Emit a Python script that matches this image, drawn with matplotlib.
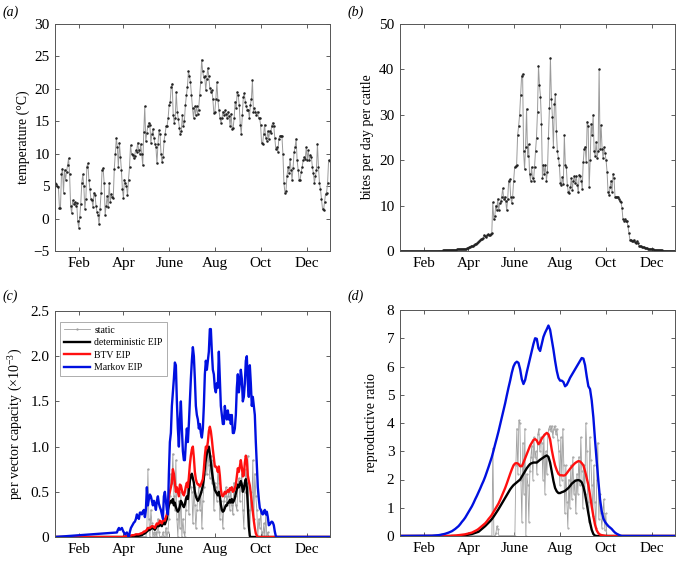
import numpy as np
import matplotlib
matplotlib.use("Agg")
import matplotlib.pyplot as plt

plt.rcParams['font.family'] = ['Liberation Serif', 'DejaVu Serif']
plt.rcParams['mathtext.fontset'] = 'custom'
plt.rcParams['mathtext.rm'] = 'Liberation Serif'
plt.rcParams['mathtext.it'] = 'Liberation Serif:italic'

# ---------------- data ----------------
month_ticks = [32, 91, 152, 213, 274, 335]
month_labels = ['Feb', 'Apr', 'June', 'Aug', 'Oct', 'Dec']

temperature = [5.5, 5.3, 5, 4.8, 1.7, 1.6, 6.8, 7.7, 4, 7.5, 6, 7.2, 8.2, 9.3, 6.8, 2, 0.8, 2.8, 2.2, 2.5, 2, 2.4,
               -0.4, -1.4, 0.2, 2.3, 5.5, 6.8, 5, 1.5, 3, 8, 8.5, 6, 4.5, 3, 2.8, 1.8, 4, 3.7, 2, 1, 0.5, -0.9, 1.5,
               4, 7.5, 7.8, 5.5, 0.6, 2, 3.5, 1.8, 5.5, 2.5, 3.8, 3.3, 3.2, 7.7, 10, 12.4, 11, 8, 11.7, 9.5, 7.5,
               4.5, 3.2, 6, 5.5, 5, 3.6, 6, 8, 11.3, 10, 9.8, 9.3, 9.7, 10.5, 10.3, 11.7, 10.5, 10, 11.5, 10, 8.2,
               13.3, 17.3, 12, 13.2, 14.2, 14.8, 14.5, 11.7, 13, 13.8, 12.5, 11.5, 11, 8.5, 11.5, 13.6, 13, 10,
               8.7, 9.5, 12, 13, 14.2, 14.3, 15.5, 17.5, 18, 20.3, 20.8, 16, 14.8, 15.5, 19.5, 16.5, 15.3, 14, 13,
               13.5, 16, 14.2, 15, 17.5, 19, 20.3, 22.7, 22, 21, 19, 17, 15.5, 17.3, 16, 17.3, 16.2, 16.8, 19, 21,
               24.5, 22.7, 21.8, 22, 19.8, 21.5, 23.2, 22, 20.2, 19.5, 19.8, 18.5, 16.3, 16.5, 18.5, 21, 18.3,
               16.7, 15.5, 14.8, 15.5, 16.5, 16, 16.7, 16.2, 15.5, 16.5, 15.8, 14.3, 16.2, 13.8, 14, 15.5, 18, 17,
               19.5, 19, 17.5, 14.5, 13, 16, 18.7, 19.3, 18, 17.3, 16.8, 16.8, 15.5, 17.5, 18.5, 21.3, 16.5, 17,
               16.5, 16, 16.5, 15.5, 15.5, 14.5, 11.7, 11.5, 13, 14.5, 12.5, 12, 13.5, 12.3, 13.5, 13.2, 14.3,
               14.8, 14.3, 12.5, 10.7, 11, 10.3, 12.3, 12.8, 12.8, 12.8, 10, 5.5, 4, 4.2, 6.5, 8, 7, 9.2, 7.5, 6,
               7.8, 10.2, 11, 12.3, 9, 7.5, 6, 6, 7.2, 8, 9, 9.5, 9.2, 11, 9, 10.5, 9, 9.8, 9.5, 8, 7, 5.5, 6.5,
               7.5, 11.5, 8, 5.5, 4.5, 3, 1.5, 1.3, 2.5, 3.8, 4, 5.5, 9, 8.8]

bites = [0.0, 0.0, 0.0, 0.0, 0.0, 0.0, 0.0, 0.0, 0.0, 0.0, 0.0, 0.0, 0.0, 0.0, 0.0, 0.0, 0.0, 0.0, 0.0, 0.0,
         0.0, 0.0, 0.0, 0.0, 0.0, 0.05, 0.05, 0.05, 0.05, 0.05, 0.05, 0.05, 0.05, 0.05, 0.05, 0.05, 0.05, 0.05, 0.05,
         0.1, 0.1, 0.1, 0.1, 0.15, 0.15, 0.15, 0.2, 0.2, 0.2, 0.2, 0.25, 0.25, 0.3, 0.3, 0.3, 0.3,
         0.3, 0.35, 0.35, 0.4, 0.4, 0.4, 0.45, 0.45, 0.5, 0.5, 0.55, 0.6, 0.7, 0.8, 0.9, 1.0, 1.1, 1.2, 1.4, 1.5,
         1.6, 1.8, 2.0, 2.2, 2.4, 2.6, 2.7, 2.8, 3.5, 3.2, 3.0, 3.5, 3.7, 3.6, 3.5, 3.8, 4.0,
         10.7, 7, 7.7, 10, 9, 11.5, 9, 10.5, 11, 12, 13.8, 11.5, 12, 11, 9, 11.5, 15.5, 15.8, 12, 10.5, 12, 15.5,
         18.5, 18.7, 19, 25.5, 27.5, 30, 34.3, 38.5, 39, 22, 18, 23, 31.3, 21, 23.5, 17, 15.5, 18.5, 16, 15.5,
         18.5, 22, 25, 30.7, 40.8, 36.5, 34, 28, 16, 19, 17, 19, 15.5, 17.5, 25, 31.5, 42.5, 33.5, 29.5, 23,
         32.3, 34.5, 26.5, 22, 20.5, 19, 15, 14.5, 16.3, 14.7, 25.5, 19, 18.5, 14.5, 13, 12.8, 14, 16, 13.5,
         15.5, 16.5, 15, 16.5, 14.5, 13, 16.8, 16.5, 15.5, 13.7, 19.5, 22.5, 23, 19.5, 28.5, 27.5, 14, 20, 28,
         25.5, 30, 22, 21, 24, 20.5, 22, 40, 22.5, 27.7, 22.5, 20.5, 22.8, 21.5, 20, 17.5, 13, 12.3, 14, 15.5,
         13, 17, 16, 12, 12, 11.8, 12, 11.5, 11, 10.8, 9.5, 7, 6.7, 7, 6.5, 6.7, 5.5, 4, 2.5, 2.5, 2.3, 2.2,
         2.5, 2, 1.8, 2.2, 1.7, 1.2,
         1.1, 1.0, 0.9, 0.85, 0.8, 0.7, 0.65, 0.6, 0.55, 0.5, 0.45, 0.45, 0.4, 0.35, 0.3, 0.3, 0.25, 0.25,
         0.2, 0.2, 0.15, 0.15, 0.12, 0.1, 0.1, 0.08, 0.07, 0.06, 0.05, 0.05, 0.04, 0.03, 0.03, 0.02, 0.02, 0.02]

# panel (c): per vector capacity (x1e-3), sampled every 1.33 days from day 82.4
c_start, c_step = 82.4, 1.33
markov_c = [0.05, 0.08, 0.1, 0.08, 0.09, 0.1, 0.07, 0.05, 0.03, 0.04, 0.05, 0.02, 0.0, 0.06, 0.1, 0.12, 0.14,
            0.16, 0.17, 0.2, 0.25, 0.22, 0.2, 0.27, 0.27, 0.25, 0.28, 0.3, 0.22, 0.3, 0.55, 0.35, 0.42, 0.47,
            0.45, 0.4, 0.35, 0.4, 0.36, 0.3, 0.4, 0.45, 0.37, 0.33, 0.3, 0.25, 0.2, 0.45, 0.5, 0.4, 0.3, 0.25,
            0.7, 1.05, 1.15, 1.45, 1.6, 1.75, 1.93, 1.9, 1.5, 1.2, 1.0, 1.3, 1.5, 1.2, 0.95, 0.85, 0.85, 1.05,
            1.2, 1.05, 1.25, 1.5, 1.75, 1.95, 2.1, 2.0, 1.75, 1.45, 1.35, 1.3, 1.2, 1.25, 1.15, 1.1, 1.2, 1.45,
            1.8, 1.95, 1.85, 1.95, 2.05, 2.3, 2.3, 2.05, 1.85, 1.8, 1.65, 1.6, 1.7, 1.65, 2.05, 1.75, 1.45,
            1.35, 1.25, 1.25, 1.45, 1.35, 1.3, 1.4, 1.3, 1.35, 1.25, 1.35, 1.15, 1.15, 1.2, 1.35, 1.65, 1.8,
            1.6, 1.7, 1.85, 1.75, 1.5, 1.55, 1.7, 1.95, 2.0, 1.7, 1.55, 1.9, 1.7, 1.45, 1.55, 1.45, 1.35, 1.05,
            0.8, 0.55, 0.42, 0.32, 0.3, 0.26, 0.25, 0.28, 0.3, 0.25, 0.28, 0.22, 0.13, 0.14, 0.16, 0.17, 0.16,
            0.13, 0.06, 0.01, 0.0]
btv_c = [0.0, 0.0, 0.0, 0.0, 0.0, 0.0, 0.0, 0.005, 0.005, 0.01, 0.01, 0.01, 0.01, 0.015, 0.015, 0.02, 0.02, 0.02,
         0.025, 0.03, 0.03, 0.03, 0.03, 0.035, 0.04, 0.04, 0.05, 0.06, 0.06, 0.07, 0.08, 0.1, 0.1, 0.1, 0.11, 0.12,
         0.12, 0.11, 0.1, 0.13, 0.15, 0.14, 0.15, 0.18, 0.17, 0.15, 0.18, 0.2, 0.18, 0.22, 0.25, 0.35, 0.45, 0.5,
         0.55, 0.6, 0.75, 0.7, 0.6, 0.5, 0.55, 0.5, 0.45, 0.58, 0.57, 0.52, 0.48, 0.46, 0.5, 0.56, 0.6, 0.55,
         0.66, 0.8, 0.9, 0.97, 1.0, 0.88, 0.72, 0.64, 0.6, 0.58, 0.58, 0.56, 0.58, 0.61, 0.64, 0.75, 0.9, 1.0,
         0.98, 1.05, 1.17, 1.22, 1.17, 1.08, 0.97, 0.88, 0.78, 0.78, 0.76, 0.72, 0.78, 0.68, 0.53, 0.46, 0.45,
         0.47, 0.5, 0.48, 0.5, 0.52, 0.5, 0.54, 0.52, 0.55, 0.5, 0.51, 0.54, 0.58, 0.67, 0.76, 0.72, 0.78, 0.85,
         0.77, 0.67, 0.68, 0.82, 0.9, 0.85, 0.68, 0.62, 0.57, 0.48, 0.38, 0.28, 0.18, 0.1, 0.04, 0.015, 0.0,
         0.0, 0.0, 0.0, 0.0, 0.0, 0.0, 0.0, 0.0, 0.0, 0.0, 0.0, 0.0, 0.0, 0.0, 0.0, 0.0, 0.0, 0.0, 0.0]
det_c = [0.0, 0.0, 0.0, 0.0, 0.0, 0.0, 0.0, 0.0, 0.0, 0.0, 0.0, 0.0, 0.0, 0.0, 0.0, 0.0, 0.0, 0.005, 0.005, 0.01,
         0.01, 0.01, 0.015, 0.015, 0.02, 0.02, 0.03, 0.035, 0.04, 0.05, 0.06, 0.07, 0.08, 0.08, 0.09, 0.1, 0.1,
         0.09, 0.08, 0.1, 0.12, 0.12, 0.12, 0.14, 0.13, 0.12, 0.15, 0.17, 0.14, 0.17, 0.2, 0.3, 0.35, 0.38, 0.4,
         0.38, 0.42, 0.35, 0.38, 0.33, 0.3, 0.28, 0.3, 0.34, 0.4, 0.38, 0.35, 0.33, 0.36, 0.42, 0.45, 0.42,
         0.52, 0.62, 0.68, 0.7, 0.65, 0.6, 0.5, 0.45, 0.42, 0.4, 0.42, 0.45, 0.48, 0.52, 0.57, 0.65, 0.77,
         0.86, 0.92, 0.98, 1.0, 0.92, 0.82, 0.73, 0.65, 0.58, 0.52, 0.5, 0.48, 0.46, 0.5, 0.45, 0.36, 0.3,
         0.28, 0.29, 0.32, 0.35, 0.35, 0.38, 0.38, 0.41, 0.38, 0.42, 0.38, 0.4, 0.43, 0.48, 0.53, 0.58, 0.55,
         0.58, 0.62, 0.58, 0.5, 0.53, 0.6, 0.64, 0.55, 0.35, 0.12, 0.01, 0.0, 0.0, 0.0, 0.0, 0.0, 0.0, 0.0,
         0.0, 0.0, 0.0, 0.0, 0.0, 0.0, 0.0, 0.0, 0.0, 0.0, 0.0, 0.0, 0.0, 0.0, 0.0, 0.0, 0.0, 0.0, 0.0]
static_c = [0.0, 0.0, 0.0, 0.0, 0.0, 0.0, 0.0, 0.0, 0.0, 0.0, 0.0, 0.0, 0.0, 0.0, 0.0, 0.0, 0.0, 0.0, 0.0, 0.0,
            0.0, 0.0, 0.0, 0.0, 0.0, 0.0, 0.0, 0.0, 0.0, 0.0,
            0.1, 0.75, 0.2, 0.0, 0.3, 0.15, 0.0, 0.05, 0.0, 0.05, 0.0, 0.2, 0.05, 0.0, 0.0, 0.0, 0.05, 0.0, 0.0,
            0.1, 0.0, 0.05, 0.2, 0.45, 0.7, 0.6, 0.92, 0.45, 0.3, 0.85, 0.2, 0.0, 0.4, 0.1, 0.5, 0.0, 0.2, 0.05,
            0.0, 0.3, 0.45, 0.6, 0.25, 0.65, 0.55, 0.5, 0.15, 0.55, 0.35, 0.1, 0.3, 0.45, 0.55, 0.3, 0.5, 0.1,
            0.4, 0.55, 0.7, 0.85, 0.7, 0.95, 0.8, 0.65, 0.9, 0.6, 0.85, 0.3, 0.6, 0.55, 0.4, 0.75, 0.6, 0.2,
            0.4, 0.3, 0.1, 0.4, 0.45, 0.55, 0.35, 0.45, 0.5, 0.3, 0.55, 0.35, 0.25, 0.6, 0.45, 0.35, 0.3, 0.55,
            0.65, 0.4, 0.6, 0.7, 0.3, 0.1, 0.5, 0.75, 0.6, 0.9, 0.3, 0.0, 0.5, 0.3, 0.85, 0.2, 0.7, 0.45, 0.3,
            0.0, 0.2, 0.1, 0.3, 0.05, 0.0, 0.15, 0.0, 0.25, 0.0, 0.05, 0.0,
            0.0, 0.0, 0.0, 0.0, 0.0, 0.0, 0.0, 0.0]

# panel (d): reproductive ratio, smooth curves sampled every 2.215 days from day 42.5
d_start, d_step = 42.5, 2.215
markov_d = [0.01, 0.015, 0.02, 0.025, 0.03, 0.04, 0.055, 0.065, 0.08, 0.1, 0.12, 0.145, 0.17, 0.21, 0.25, 0.3,
            0.35, 0.42, 0.5, 0.57, 0.65, 0.75, 0.85, 0.95, 1.05, 1.17, 1.3, 1.42, 1.55, 1.68, 1.82, 1.95, 2.1,
            2.27, 2.44, 2.62, 2.8, 3.02, 3.25, 3.47, 3.7, 3.95, 4.2, 4.45, 4.7, 4.98, 5.25, 5.5, 5.78, 6.0, 6.12,
            6.17, 6.13, 5.9, 5.55, 5.38, 5.52, 5.8, 6.05, 6.3, 6.55, 6.8, 7.0, 6.98, 6.65, 6.55, 6.8, 7.05, 7.2,
            7.32, 7.45, 7.3, 6.95, 6.6, 6.2, 5.85, 5.6, 5.5, 5.5, 5.45, 5.3, 5.35, 5.47, 5.6, 5.7, 5.8, 5.9, 6.0,
            6.1, 6.2, 6.3, 6.28, 6.05, 5.65, 5.3, 5.2, 4.8, 4.2, 3.4, 2.65, 1.95, 1.3, 0.88, 0.62, 0.5, 0.42,
            0.35, 0.3, 0.25, 0.18, 0.12, 0.08, 0.05, 0.02, 0.0, 0.0, 0.0]
btv_d = [0.0, 0.0, 0.0, 0.0, 0.0, 0.0, 0.0, 0.0, 0.0, 0.0, 0.0, 0.0, 0.01, 0.013, 0.017, 0.022, 0.03, 0.037, 0.045,
         0.052, 0.06, 0.075, 0.09, 0.105, 0.12, 0.15, 0.18, 0.21, 0.25, 0.3, 0.35, 0.4, 0.45, 0.52, 0.6, 0.67,
         0.75, 0.85, 0.95, 1.05, 1.15, 1.28, 1.42, 1.56, 1.7, 1.86, 2.03, 2.2, 2.36, 2.5, 2.57, 2.58, 2.55, 2.47,
         2.47, 2.6, 2.75, 2.9, 3.05, 3.2, 3.3, 3.4, 3.43, 3.38, 3.25, 3.32, 3.45, 3.53, 3.6, 3.65, 3.6, 3.42,
         3.05, 2.75, 2.5, 2.33, 2.2, 2.15, 2.15, 2.14, 2.15, 2.22, 2.3, 2.38, 2.45, 2.52, 2.58, 2.62, 2.65,
         2.64, 2.58, 2.5, 2.3, 2.05, 1.8, 1.45, 1.05, 0.7, 0.4, 0.2, 0.1, 0.05, 0.03, 0.02, 0.01, 0.0, 0.0,
         0.0, 0.0, 0.0, 0.0, 0.0, 0.0, 0.0, 0.0, 0.0, 0.0]
det_d = [0.0, 0.0, 0.0, 0.0, 0.0, 0.0, 0.0, 0.0, 0.0, 0.0, 0.0, 0.0, 0.0, 0.0, 0.0, 0.0, 0.01, 0.015, 0.02, 0.025,
         0.03, 0.04, 0.05, 0.06, 0.07, 0.09, 0.11, 0.13, 0.15, 0.2, 0.25, 0.3, 0.35, 0.41, 0.47, 0.53, 0.6, 0.68,
         0.77, 0.86, 0.95, 1.05, 1.15, 1.25, 1.35, 1.45, 1.55, 1.65, 1.73, 1.8, 1.85, 1.9, 1.95, 2.0, 2.1, 2.2,
         2.3, 2.4, 2.48, 2.55, 2.58, 2.6, 2.6, 2.6, 2.65, 2.7, 2.74, 2.78, 2.82, 2.85, 2.8, 2.6, 2.28, 1.95,
         1.7, 1.58, 1.52, 1.52, 1.55, 1.57, 1.6, 1.65, 1.7, 1.77, 1.85, 1.9, 1.95, 1.97, 1.98, 1.96, 1.9, 1.75,
         1.5, 1.15, 0.8, 0.48, 0.22, 0.07, 0.01, 0.0, 0.0, 0.0, 0.0, 0.0, 0.0, 0.0, 0.0, 0.0, 0.0, 0.0, 0.0,
         0.0, 0.0, 0.0, 0.0, 0.0, 0.0]
static_d = [0.0, 0.0, 0.0, 0.0, 0.0, 0.0, 0.0, 0.0, 0.0, 0.0, 0.0, 0.0, 0.0, 0.0, 0.0, 0.0, 0.0, 0.0, 0.0, 0.0,
            0.0, 0.0, 0.0, 0.0, 0.0, 0.0, 0.0, 0.0, 0.0, 0.0, 0.0,
            3.1, 0.0, 0.0, 0.1, 0.35, 0.25, 0.0, 0.0, 0.0, 0.0, 0.0, 0.0, 0.0, 0.0, 0.0, 0.0, 0.0, 0.0, 0.0, 0.0,
            0.0, 0.0, 0.0,
            2.5, 3.8, 2.2, 4.1, 4.0, 2.0, 0.5, 3.3, 1.5, 3.8, 0.0, 2.2, 1.8, 0.5, 2.3, 2.8, 3.2, 2.0, 3.5, 2.8,
            3.0, 2.2, 3.6, 3.8, 3.0, 3.5, 3.3, 2.0, 3.6, 1.5, 3.0, 2.2, 3.6, 3.8, 3.9, 3.7, 3.9, 3.5, 3.8, 3.9,
            3.6, 3.8, 3.4, 3.0, 1.8, 3.5, 2.0, 3.8, 2.5, 0.8, 2.5, 1.2, 0.3, 2.0, 1.0, 2.5, 1.3, 2.8, 1.5, 2.0,
            0.8, 2.2, 1.5, 2.8, 1.8, 3.5, 2.3, 1.0, 2.5, 1.5, 4.0, 3.0, 1.2, 0.5, 3.5, 2.7, 1.8, 0.7, 2.5, 1.2,
            0.3, 2.0, 3.3, 0.6, 1.5, 0.8, 0.3, 0.8, 1.3, 0.2, 0.8, 0.0,
            0.0, 0.0, 0.0, 0.0, 0.0, 0.0, 0.0, 0.0, 0.0, 0.0, 0.0, 0.0, 0.0]


def full_year(vals, start, step):
    """positions of samples read at a regular step, plus zero baseline to the year ends"""
    x = start + step * np.arange(len(vals))
    return np.concatenate([[0.0], x, [366.0]]), np.concatenate([[0.0], vals, [0.0]])


# ---------------- figure ----------------
W, H = 691, 566
fig = plt.figure(figsize=(W / 100, H / 100), dpi=100)


def make_ax(l, r, t, b):
    return fig.add_axes([l / W, 1 - b / H, (r - l) / W, (b - t) / H])


axa = make_ax(55, 330, 24, 251)
axb = make_ax(400, 675, 24, 251)
axc = make_ax(55, 330, 311, 537)
axd = make_ax(400, 675, 310, 536)

BLUE = '#0010e0'
RED = '#ff1010'
GRAY = '#a0a0a0'

for ax in (axa, axb, axc, axd):
    ax.set_xlim(0, 366)
    ax.set_xticks(month_ticks)
    ax.set_xticklabels(month_labels)
    ax.tick_params(direction='in', top=True, right=True, length=3, width=0.6,
                   labelsize=11, color='#444444', pad=4)
    for s in ax.spines.values():
        s.set_linewidth(0.7)
        s.set_color('#555555')

# (a) temperature
xa = np.linspace(0.5, 365.5, len(temperature))
axa.plot(xa, temperature, '-', color='#9a9a9a', lw=0.7, marker='.', ms=1.6,
         mfc='#222222', mec='#222222')
axa.set_ylim(-5, 30)
axa.set_yticks(range(-5, 31, 5))
axa.set_ylabel('temperature (°C)', fontsize=10, labelpad=2)

# (b) bites
xb = np.linspace(0.5, 365.5, len(bites))
axb.plot(xb, bites, '-', color='#9a9a9a', lw=0.7, marker='.', ms=1.6,
         mfc='#222222', mec='#222222')
axb.set_ylim(0, 50)
axb.set_yticks(range(0, 51, 10))
axb.set_ylabel('bites per day per cattle', fontsize=10, labelpad=4)

# (c) per vector capacity
xs, ys = full_year(static_c, c_start, c_step)
axc.plot(xs, ys, '-', color=GRAY, lw=0.6, marker='.', ms=1.3, label='static')
xs, ys = full_year(det_c, c_start, c_step)
axc.plot(xs, ys, '-', color='black', lw=1.7, label='deterministic EIP')
xs, ys = full_year(btv_c, c_start, c_step)
axc.plot(xs, ys, '-', color=RED, lw=1.7, label='BTV EIP')
xs, ys = full_year(markov_c, c_start, c_step)
axc.plot(xs, ys, '-', color=BLUE, lw=1.7, label='Markov EIP')
axc.set_ylim(0, 2.5)
axc.set_yticks([0, 0.5, 1.0, 1.5, 2.0, 2.5])
axc.set_yticklabels(['0', '0.5', '1.0', '1.5', '2.0', '2.5'])
axc.set_ylabel('per vector capacity (×10$^{-3}$)', fontsize=10, labelpad=4)
leg = axc.legend(loc='upper left', bbox_to_anchor=(0.012, 0.96), fontsize=7, frameon=True,
                 fancybox=False, edgecolor='#888888', handlelength=2.7, labelspacing=0.35,
                 borderpad=0.4, handletextpad=0.4, borderaxespad=0.2)
leg.get_frame().set_linewidth(0.6)

# (d) reproductive ratio
xs, ys = full_year(static_d, c_start, c_step)
axd.plot(xs, ys, '-', color=GRAY, lw=0.6, marker='.', ms=1.0)
xs, ys = full_year(det_d, d_start, d_step)
axd.plot(xs, ys, '-', color='black', lw=1.7)
xs, ys = full_year(btv_d, d_start, d_step)
axd.plot(xs, ys, '-', color=RED, lw=1.7)
xs, ys = full_year(markov_d, d_start, d_step)
axd.plot(xs, ys, '-', color=BLUE, lw=1.7)
axd.set_ylim(0, 8)
axd.set_yticks(range(0, 9))
axd.set_ylabel('reproductive ratio', fontsize=10, labelpad=6)

# panel letters
for lbl, (px, py) in zip(['(a)', '(b)', '(c)', '(d)'],
                         [(3, 12), (348, 12), (3, 296), (348, 296)]):
    fig.text(px / W, 1 - py / H, lbl, fontsize=10, style='italic', ha='left', va='center')

fig.savefig('out.png', dpi=100)
